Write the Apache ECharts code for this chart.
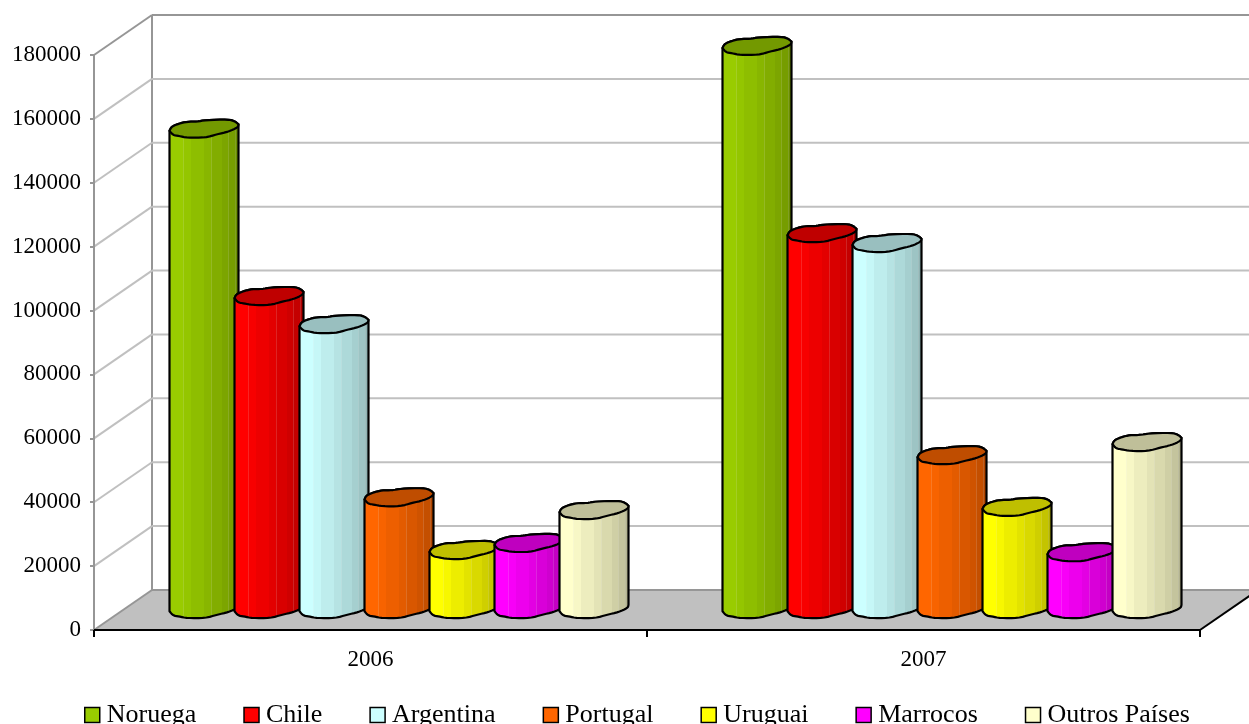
<!DOCTYPE html>
<html><head><meta charset="utf-8">
<style>html,body{margin:0;padding:0;background:#fff}#c{width:1249px;height:724px}</style>
<script src="https://cdn.jsdelivr.net/npm/echarts@6/dist/echarts.min.js"></script>
</head><body><div id="c"></div>
<script>
const categories = ['2006', '2007'];
const yTicks = [0, 20000, 40000, 60000, 80000, 100000, 120000, 140000, 160000, 180000];
const noruega = [150400, 176300];
const chile = [98000, 117700];
const argentina = [89200, 114600];
const portugal = [35000, 48200];
const uruguai = [18500, 32000];
const marrocos = [20700, 17800];
const outros = [31000, 52300];
const names = ['Noruega', 'Chile', 'Argentina', 'Portugal', 'Uruguai', 'Marrocos', 'Outros Países'];
const colors = ['#99CC00', '#FF0000', '#CCFFFF', '#FF6600', '#FFFF00', '#FF00FF', '#FFFFCC'];
const valuesBySeries = [noruega, chile, argentina, portugal, uruguai, marrocos, outros];

const FONT = '"Liberation Serif"';
const DX = 58, DY = -40;      // depth of the 3D box
const BAR_W = 69, BAR_STEP = 65, TOP_H = 18.7, BASE_LIFT = 11.5, GROUP_SHIFT = -201;

// irregular outline of a cylinder cap, in fractions of its box
const upperArc = [[0,.61],[.03,.39],[.135,.23],[.255,.125],[.4,.125],[.52,.04],[.856,0],[.95,.107],[1,.27]];
const lowerArc = [[1,.27],[.99,.43],[.856,.66],[.688,.8],[.52,.98],[.255,.98],[.135,.89],[.05,.84],[0,.61]];
function chaikin(pts) {
  let p = pts;
  for (let k = 0; k < 2; k++) {
    const o = [p[0]];
    for (let i = 0; i < p.length - 1; i++) {
      const a = p[i], b = p[i + 1];
      o.push([a[0]*.75+b[0]*.25, a[1]*.75+b[1]*.25], [a[0]*.25+b[0]*.75, a[1]*.25+b[1]*.75]);
    }
    o.push(p[p.length - 1]);
    p = o;
  }
  return p;
}
const upperS = chaikin(upperArc), lowerS = chaikin(lowerArc);

function shade(hex, f, amt) {
  const n = parseInt(hex.slice(1), 16);
  const c = [n >> 16 & 255, n >> 8 & 255, n & 255].map(v => Math.round(v * f + (255 - v * f) * (amt || 0)));
  return 'rgb(' + c.join(',') + ')';
}
// stepped cylinder shading: [band start, brightness, faint highlight at the band start]
const bands = [[0,1,0],[.2,.97,.14],[.32,.93,0],[.5,.89,0],[.6,.85,.14],[.75,.81,0],[.84,.77,.14],[.93,.7,.14],[1,.7,0]];
function bodyFill(hex) {
  const stops = [];
  for (let i = 0; i < bands.length - 1; i++) {
    const b = bands[i], next = bands[i + 1][0];
    if (b[2]) {
      stops.push({offset: b[0], color: shade(hex, b[1], b[2])});
      stops.push({offset: b[0] + .015, color: shade(hex, b[1], b[2])});
      stops.push({offset: b[0] + .015, color: shade(hex, b[1])});
    } else {
      stops.push({offset: b[0], color: shade(hex, b[1])});
    }
    stops.push({offset: next, color: shade(hex, b[1])});
  }
  return new echarts.graphic.LinearGradient(0, 0, 1, 0, stops);
}

function renderCylinder(params, api) {
  const idx = params.seriesIndex - 2;
  const base = api.coord([api.value(0), 0]);
  const top = api.coord([api.value(0), api.value(1)]);
  const band = api.size([1, 0])[0];
  const scale = band / 553;
  const x = base[0] + (GROUP_SHIFT + idx * BAR_STEP) * scale;
  const w = BAR_W * scale;
  const yTop = top[1] - BASE_LIFT - TOP_H;
  const yBot = base[1] - BASE_LIFT - TOP_H;
  const mapAt = y0 => p => [x + p[0] * w, y0 + p[1] * TOP_H];
  const hex = colors[idx];
  const body = upperS.map(mapAt(yTop)).concat(lowerS.map(mapAt(yBot)));
  const cap = upperS.map(mapAt(yTop)).concat(lowerS.map(mapAt(yTop)));
  const stroke = {stroke: '#000', lineWidth: 2.2, lineJoin: 'round'};
  return {type: 'group', children: [
    {type: 'polygon', shape: {points: body}, style: Object.assign({fill: bodyFill(hex)}, stroke)},
    {type: 'polygon', shape: {points: cap}, style: Object.assign({fill: shade(hex, .75)}, stroke)}
  ]};
}

function renderWalls(params, api) {
  const v = api.value(0);
  const front = api.coord([0, v]);
  const o = api.coord([0, 0]);
  const size = api.size([1, 0])[0];
  const xL = o[0] - size / 2, xR = o[0] + size * 1.5;
  const isTop = v === yTicks[yTicks.length - 1];
  const ch = [];
  const color = isTop ? '#969696' : '#C0C0C0';
  if (v !== 0) {
    ch.push({type: 'line', shape: {x1: xL, y1: front[1], x2: xL + DX, y2: front[1] + DY}, style: {stroke: color, lineWidth: 2}});
    ch.push({type: 'line', shape: {x1: xL + DX, y1: front[1] + DY, x2: xR + DX, y2: front[1] + DY}, style: {stroke: color, lineWidth: 2}});
  } else {
    ch.push({type: 'polygon',
      shape: {points: [[xL, front[1]], [xL + DX, front[1] + DY], [xR + DX, front[1] + DY], [xR, front[1]]]},
      style: {fill: '#C0C0C0'}});
    ch.push({type: 'line', shape: {x1: xL + DX, y1: front[1] + DY, x2: xR + DX, y2: front[1] + DY}, style: {stroke: '#969696', lineWidth: 2}});
    ch.push({type: 'line', shape: {x1: xL, y1: front[1], x2: xL + DX, y2: front[1] + DY}, style: {stroke: '#969696', lineWidth: 2}});
    ch.push({type: 'line', shape: {x1: xL + DX, y1: front[1] + DY, x2: xL + DX, y2: api.coord([0, yTicks[yTicks.length - 1]])[1] + DY}, style: {stroke: '#969696', lineWidth: 2}});
    ch.push({type: 'line', shape: {x1: xR, y1: front[1], x2: xR + DX, y2: front[1] + DY}, style: {stroke: '#000', lineWidth: 2}});
  }
  return {type: 'group', silent: true, children: ch};
}

const chart = echarts.init(document.getElementById('c'), null, {renderer: 'canvas'});
const series = [
  {type: 'custom', name: 'floor', silent: true, z: 1, renderItem: renderWalls,
   data: [[yTicks[0]]], encode: {y: 0}, legendHoverLink: false},
  {type: 'custom', name: 'walls', silent: true, z: 1, renderItem: renderWalls,
   data: yTicks.slice(1).map(v => [v]), encode: {y: 0}, legendHoverLink: false}
];
names.forEach((n, i) => series.push({
  type: 'custom', name: n, z: 3 + i, renderItem: renderCylinder,
  itemStyle: {color: colors[i]},
  encode: {x: 0, y: 1},
  data: categories.map((c, k) => [c, valuesBySeries[i][k]])
}));

chart.setOption({
  animation: false,
  backgroundColor: '#fff',
  grid: {left: 94, top: 55, width: 1106, height: 575, containLabel: false},
  legend: {
    data: names, left: 84, top: 702, icon: 'rect', itemWidth: 15, itemHeight: 15, itemGap: 47,
    padding: 0, selectedMode: false,
    itemStyle: {borderColor: '#000', borderWidth: 1.5},
    textStyle: {fontFamily: FONT, fontSize: 26, color: '#000', padding: [0, 0, 0, 2]}
  },
  xAxis: {
    type: 'category', data: categories, boundaryGap: true, z: 10,
    axisLine: {show: true, lineStyle: {color: '#000', width: 2}},
    axisTick: {show: true, length: 7, alignWithLabel: false, lineStyle: {color: '#000', width: 2}},
    axisLabel: {fontFamily: FONT, fontSize: 23, color: '#000', margin: 18},
    splitLine: {show: false}
  },
  yAxis: {
    type: 'value', min: 0, max: 180000, interval: 20000, z: 10,
    axisLine: {show: true, lineStyle: {color: '#969696', width: 2}},
    axisTick: {show: true, length: 4, lineStyle: {color: '#969696', width: 2}},
    axisLabel: {fontFamily: FONT, fontSize: 23, color: '#000', margin: 13, formatter: v => String(v), padding: [2, 0, 0, 0]},
    splitLine: {show: false}
  },
  series: series
});
</script></body></html>
